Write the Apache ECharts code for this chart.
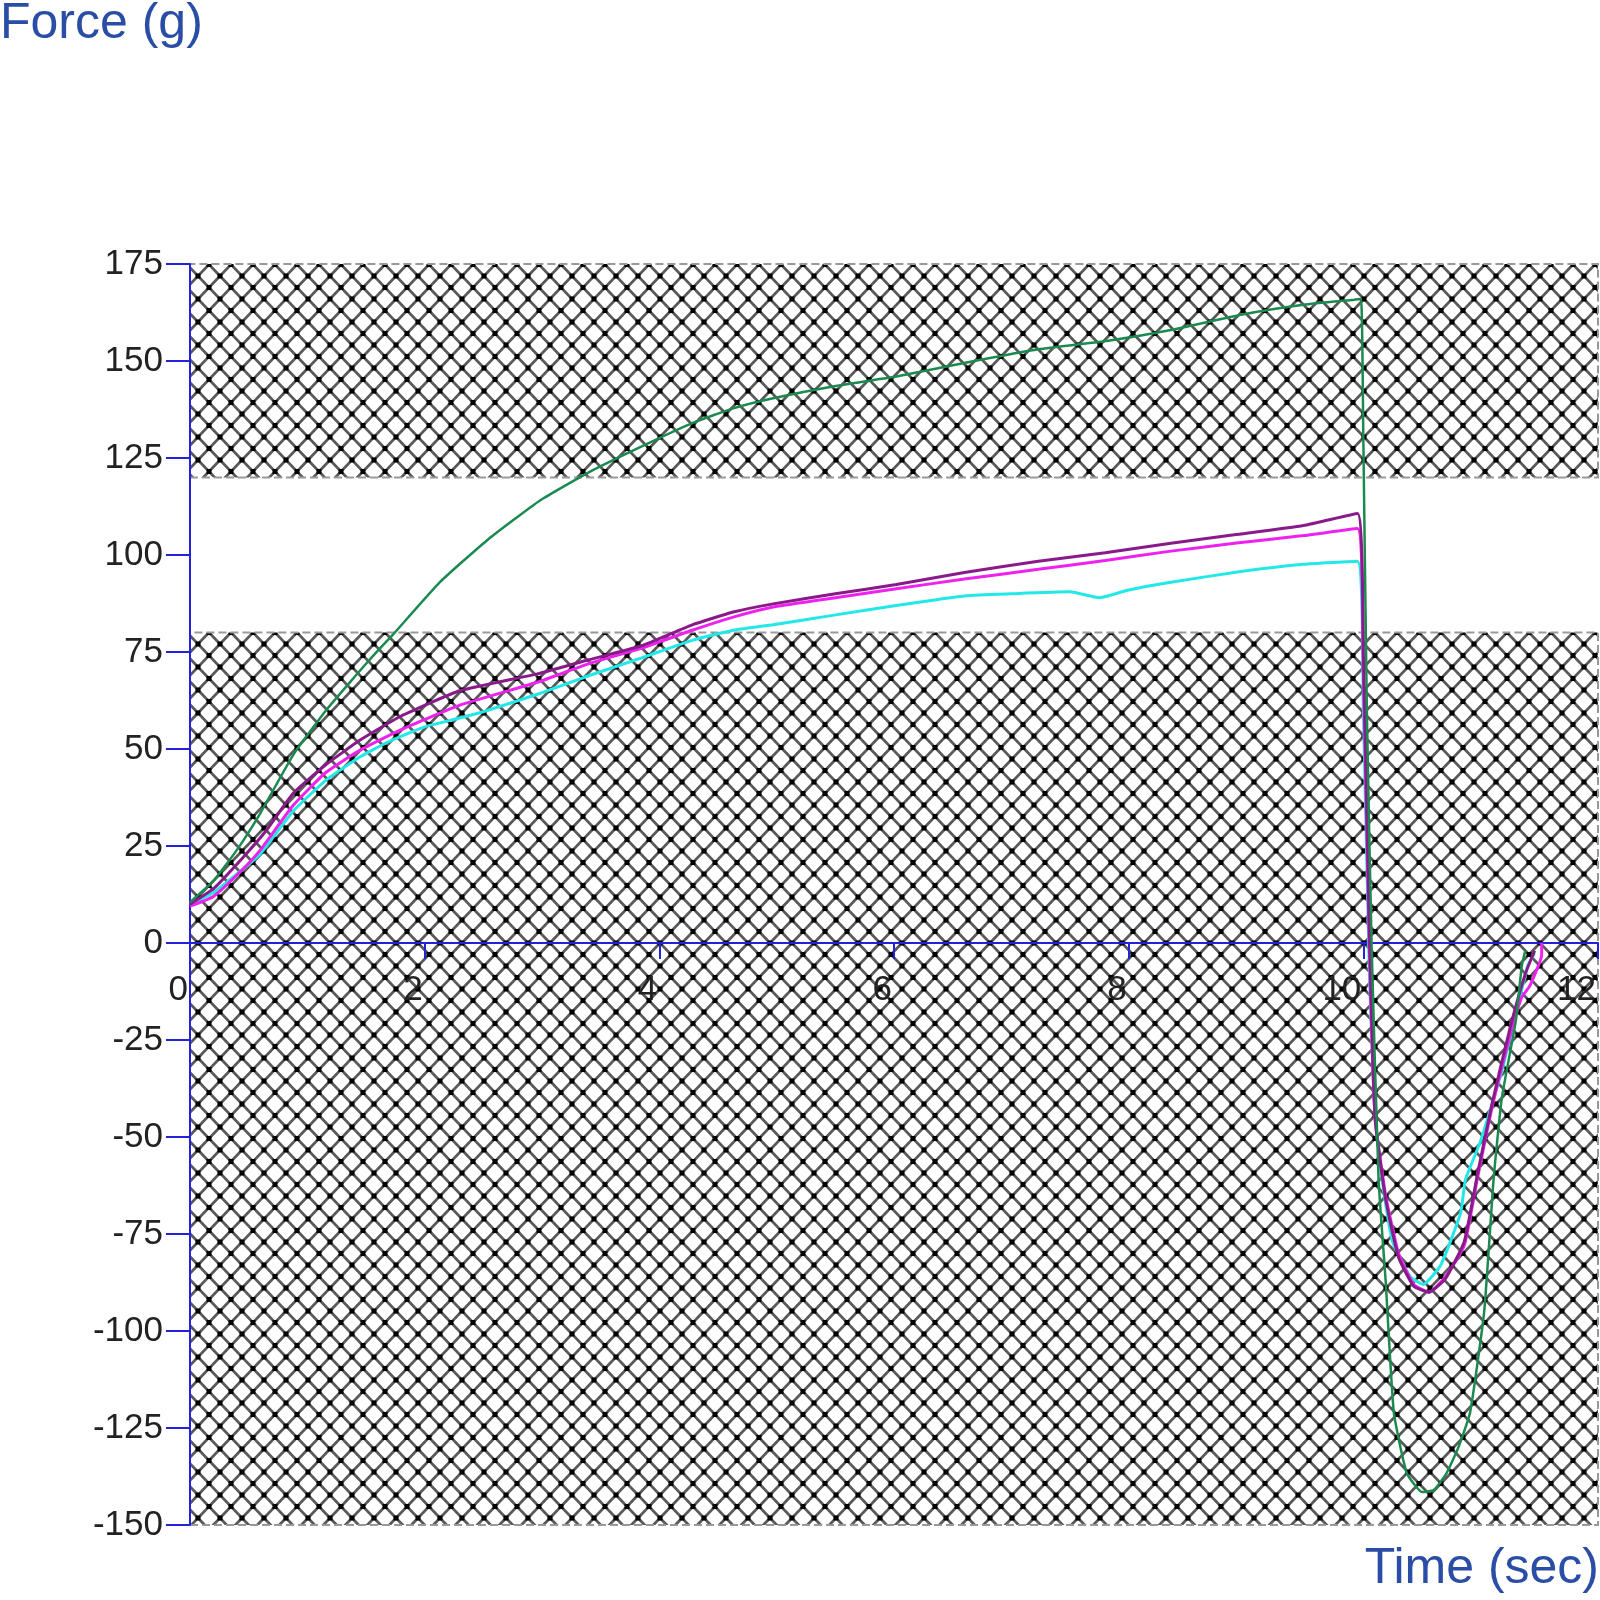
<!DOCTYPE html>
<html><head><meta charset="utf-8">
<script src="https://cdn.jsdelivr.net/npm/echarts@6/dist/echarts.min.js"></script>
<style>html,body{margin:0;padding:0;background:#fff}#c{width:1600px;height:1600px}</style>
</head><body><div id="c"></div>
<script>
const xTicks = [0, 2, 4, 6, 8, 10, 12];
const yTicks = [-150, -125, -100, -75, -50, -25, 0, 25, 50, 75, 100, 125, 150, 175];
const hatchBands = [[120, 175], [-150, 80]];
const seriesNames = ['Green', 'Cyan', 'Magenta', 'Purple'];
const green = [[0,10.5],[0.2,16],[0.4,24],[0.6,33.5],[0.88,48.5],[1.16,60],[1.4,68.5],[1.56,74],[1.73,79.5],[2.13,93],[2.54,104],[2.98,114],[3.41,121.5],[3.85,128],[4.28,134],[4.63,137.8],[4.97,140.4],[5.49,143.5],[6.02,146],[6.62,149.6],[7.23,153],[7.84,155.3],[8.36,158],[8.97,162],[9.49,164.5],[9.92,165.8],[9.98,166],[10.0,130],[10.03,60],[10.07,0],[10.13,-61],[10.19,-87],[10.26,-121],[10.37,-136.6],[10.5,-141.5],[10.6,-141],[10.71,-136.6],[10.81,-130],[10.91,-121],[11.03,-95],[11.11,-61],[11.18,-40],[11.3,-20],[11.35,-6],[11.38,-2]];
const cyan = [[0,10],[0.2,13],[0.45,19],[0.6,23],[0.88,34],[1.16,42],[1.45,48],[1.7,52],[2.0,55.7],[2.3,58],[2.54,60],[2.98,64.3],[3.41,69],[3.85,73.5],[4.28,78],[4.63,80.6],[4.97,82],[5.49,84.5],[6.02,87],[6.62,89.5],[7.0,90],[7.5,90.5],[7.75,89],[8.0,91],[8.36,93],[8.97,95.8],[9.49,97.6],[9.95,98.4],[10.0,60],[10.05,-6],[10.1,-45],[10.16,-61],[10.25,-77],[10.4,-86],[10.51,-88],[10.66,-83],[10.83,-69.5],[10.87,-61],[11.0,-51],[11.18,-33],[11.31,-17],[11.4,-6],[11.46,-2.6]];
const magenta = [[0,9.5],[0.2,12],[0.45,19],[0.6,24],[0.88,35.5],[1.16,44],[1.45,49.7],[1.8,55],[2.3,61.3],[2.98,67.4],[3.4,72],[3.85,76],[4.28,80.6],[4.63,84],[4.97,86.6],[5.5,89],[6.02,91.3],[6.6,93.8],[7.23,96.3],[7.8,98.6],[8.36,101],[8.9,103],[9.49,105],[9.95,106.8],[10.0,70],[10.05,0],[10.1,-45],[10.19,-65],[10.3,-80],[10.43,-88],[10.56,-90],[10.7,-86],[10.86,-78],[10.97,-61],[11.1,-42],[11.25,-24],[11.35,-14],[11.42,-11],[11.52,-3],[11.52,0]];
const purple = [[0,10],[0.2,14],[0.45,22],[0.65,29],[0.88,38.6],[1.16,46],[1.45,52.3],[1.8,58.5],[2.3,65],[2.98,69.5],[3.4,73],[3.85,76.6],[4.28,82],[4.63,85.3],[4.97,87.4],[5.5,90],[6.02,92.4],[6.6,95.5],[7.23,98.4],[7.8,100.6],[8.36,103],[8.9,105.2],[9.49,107.6],[9.95,110.7],[10.0,75],[10.05,5],[10.1,-45],[10.19,-66],[10.3,-81],[10.43,-88.5],[10.56,-90],[10.7,-86.5],[10.86,-77],[10.97,-60],[11.1,-41],[11.25,-22],[11.38,-8],[11.46,-2]];

// hatch pattern tile (diamond lattice with dots at crossings)
const TW = 22, TH = 23;
const cv = document.createElement('canvas');
cv.width = TW; cv.height = TH;
const ctx = cv.getContext('2d');
ctx.fillStyle = '#ffffff'; ctx.fillRect(0, 0, TW, TH);
ctx.strokeStyle = '#5a5a5a'; ctx.lineWidth = 2.8;
ctx.beginPath();
for (let k = -2; k <= 2; k++) {
  ctx.moveTo(k * TW, 0); ctx.lineTo(k * TW + TW, TH);
  ctx.moveTo(k * TW + TW, 0); ctx.lineTo(k * TW, TH);
}
ctx.stroke();
ctx.fillStyle = '#000';
[[0,0],[TW,0],[0,TH],[TW,TH],[TW/2,TH/2]].forEach(p => ctx.fillRect(p[0] - 2.5, p[1] - 2.5, 5, 5));
const hatch = { image: cv, repeat: 'repeat' };

const axisBlue = '#2222dd';
const font = 'Liberation Sans';
const chart = echarts.init(document.getElementById('c'));
const colors = ['#1b8a50', '#22e8e8', '#ee22ee', '#8a1a8a'];
const widths = [2.5, 3, 3, 3];
const datas = [green, cyan, magenta, purple];
const order = [1, 2, 3, 0];
const lineSeries = order.map(i => ({
  name: seriesNames[i], type: 'line', data: datas[i], showSymbol: false, z: 3, smooth: 0.15,
  lineStyle: { color: colors[i], width: widths[i] }, itemStyle: { color: colors[i] }
}));
const gridTop = 264, gridBottom = 75;
const option = {
  animation: false,
  title: [
    { text: 'Force (g)', left: 0, top: -1, padding: 0, textStyle: { color: '#2a4ea6', fontSize: 50, fontWeight: 'normal', fontFamily: font } },
    { text: 'Time (sec)', right: 1, bottom: 6, padding: 0, textStyle: { color: '#2a4ea6', fontSize: 50, fontWeight: 'normal', fontFamily: font } }
  ],
  grid: { left: 190, right: 2, top: gridTop, bottom: gridBottom },
  xAxis: {
    type: 'value', min: xTicks[0], max: xTicks[xTicks.length - 1], interval: 2, z: 2, offset: 0,
    axisLine: { onZero: false, lineStyle: { color: axisBlue, width: 2 } },
    axisTick: { length: 16, lineStyle: { color: axisBlue, width: 2 } },
    axisLabel: { color: '#222', fontSize: 35, fontFamily: font, align: 'right', margin: 30, padding: [0, 2, 0, 0], showMaxLabel: true },
    splitLine: { show: false }
  },
  yAxis: {
    type: 'value', min: yTicks[0], max: yTicks[yTicks.length - 1], interval: 25, z: 2,
    axisLine: { onZero: false, lineStyle: { color: axisBlue, width: 2 } },
    axisTick: { show: true, length: 24, lineStyle: { color: axisBlue, width: 2 } },
    axisLabel: { color: '#222', fontSize: 35, fontFamily: font, margin: 27 },
    splitLine: { show: false }
  },
  series: [{
    type: 'line', data: [], z: 1, silent: true,
    markArea: {
      silent: true, z: 1,
      itemStyle: { color: hatch, borderColor: '#999', borderWidth: 2, borderType: [8, 4] },
      data: hatchBands.map(b => [{ xAxis: xTicks[0], yAxis: b[0] }, { xAxis: xTicks[xTicks.length - 1], yAxis: b[1] }])
    }
  }].concat(lineSeries)
};
chart.setOption(option);
// move the x axis (line, ticks and labels) up to y = 0
const yZero = chart.convertToPixel({ yAxisIndex: 0 }, 0);
const yMin = chart.convertToPixel({ yAxisIndex: 0 }, yTicks[0]);
chart.setOption({ xAxis: { offset: -(yMin - yZero) } });
</script></body></html>
